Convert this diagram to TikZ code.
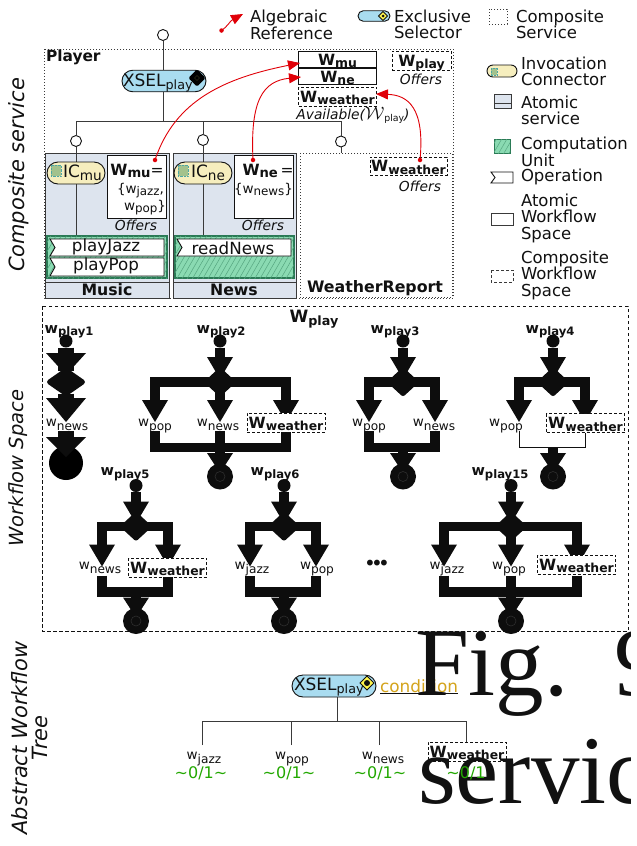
\documentclass[tikz,border=0pt]{standalone}
\usepackage{fontspec}
\setmainfont{DejaVu Sans}
\setsansfont{DejaVu Sans}
\newfontfamily\figfont{Liberation Serif}
\usetikzlibrary{shapes.geometric,shapes.misc,patterns.meta,arrows.meta}
\definecolor{ink}{HTML}{111111}
\definecolor{wfblack}{HTML}{0D0D0D}
\definecolor{linegray}{HTML}{3A3A3A}
\definecolor{selblue}{HTML}{A9DCF0}
\definecolor{icyellow}{HTML}{F6EEBE}
\definecolor{atomfill}{HTML}{DDE4EE}
\definecolor{cugreen}{HTML}{8ADAB2}
\definecolor{cudark}{HTML}{2A7A55}
\definecolor{refred}{HTML}{E00008}
\definecolor{gold}{HTML}{D4A41C}
\definecolor{zgreen}{HTML}{22A800}
\newcommand{\fs}[1]{\fontsize{#1}{#1}\selectfont}
\newcommand{\wsub}[3][.85]{#2\raisebox{-.18em}{\scalebox{#1}{#3}}}
\newcommand{\bW}[1]{{\fs{15.5}\bfseries\wsub[.8]{W}{#1}}}
\newcommand{\bw}[1]{{\fs{14.5}\bfseries\wsub[.8]{w}{#1}}}
\newcommand{\nw}[1]{{\fs{13.5}w\raisebox{-.32em}{\scalebox{.9}{#1}}}}
\tikzset{
  x=1pt,y=-1pt,
  every node/.style={text=ink,inner sep=0pt,outer sep=0pt},
  leg/.style={font=\fs{16.5},align=left,anchor=west},
  dotbox/.style={draw=linegray,line width=.8pt,dash pattern=on 1pt off 2pt},
  tree/.style={draw=linegray,line width=.95pt},
  port/.style={circle,draw=ink,fill=white,line width=.9pt,minimum size=11pt},
  wsbox/.style={text height=11pt,text depth=0pt},
  solidws/.style={draw=ink,fill=white,line width=.9pt,wsbox},
  dashws/.style={draw=ink,fill=white,line width=.9pt,dash pattern=on 3pt off 2pt,wsbox},
  pill/.style={rounded rectangle,draw=ink,line width=.9pt},
  offers/.style={font=\fs{13.8}\itshape},
  atom/.style={draw=linegray,fill=atomfill,line width=1pt},
  cu/.style={draw=cudark,line width=1.6pt,fill=cugreen,postaction={pattern={Lines[angle=60,distance=4.5pt,line width=.5pt]},pattern color=cudark!55!cugreen}},
  opshape/.style={draw=ink,fill=white,line width=.9pt},
  optext/.style={font=\fs{16.7}},
  refline/.style={draw=refred,line width=.9pt,-{Triangle[length=12pt,width=10pt]},fill=none},
  refdot/.style={circle,fill=refred,minimum size=4.5pt},
  wfline/.style={draw=wfblack,line width=9.5pt},
  wfstart/.style={circle,fill=wfblack,minimum size=13pt},
  wfdia/.style={diamond,fill=wfblack,draw=wfblack,line width=5pt,line join=round,minimum width=25pt,minimum height=23pt},
  wfend/.style={circle,fill=wfblack,minimum size=26pt},
  tiny/.style={diamond,draw=olive!55!black,line width=.3pt,minimum size=5pt},
  seldia/.style={diamond,draw=ink,fill=yellow!70!white,line width=.9pt,minimum size=#1},
  seldot/.style={circle,fill=ink,minimum size=#1},
  side/.style={font=\fs{21}\itshape,rotate=90,align=center},
  wlab/.style={anchor=base},
}
% triangle: x, y-top, half width, height
\newcommand{\wftri}[4]{\fill[wfblack] (#1-#3,#2) -- (#1+#3,#2) -- (#1,#2+#4) -- cycle;}
\newcommand{\wfcore}[3]{%
  \node[wfstart] (#1s) at (#2,#3) {};
  \node[wfdia] (#1d) at (#2,#3+41) {};
  \node[wfend] (#1e) at (#2,#3+135.5) {};
  \draw[wfline] (#1s) -- (#1d);
  \wftri{#2}{#3+16}{13}{22}
  \wftri{#2}{#3+112}{13}{20}
  \node[tiny] (#1t) at (#2,#3+41) {};
  \draw[draw=black!82,line width=.6pt] (#1e) circle[radius=5pt];
}
\newcommand{\wfdown}[4]{% id cx x top
  \coordinate (#1b#3) at (#3,#4+41);
  \draw[wfline] (#1d.center) -- (#1b#3) -- (#3,#4+70);
  \wftri{#3}{#4+59}{13}{22}
}
\newcommand{\wfup}[4]{% id cx x top
  \coordinate (#1l#3) at (#3,#4+106.5);
  \coordinate (#1m#3) at (#2,#4+106.5);
  \draw[wfline] (#3,#4+90) -- (#1l#3) -- (#1m#3) -- (#1e);
}
\begin{document}
\begin{tikzpicture}
\useasboundingbox (0,0) rectangle (637,846);
\fill[white] (0,0) rectangle (637,846);

% ---------- legend
\node[refdot] (legdot) at (221.5,30.5) {};
\coordinate (legtip) at (243,14);
\draw[refline] (legdot.center) .. controls (228,26) and (230,21) .. (legtip);
\node[leg] (lega) at (250,25) {Algebraic\\Reference};
\node[pill,fill=selblue,minimum width=32pt,minimum height=10.5pt] (legsel) at (374,16) {};
\node[seldia=9pt] (legseld) at (383,16) {};
\node[seldot=3pt] (legseldd) at (383,16) {};
\node[leg] (legb) at (394,24.5) {Exclusive\\Selector};
\draw[dotbox] (489,9) rectangle (507,24);
\node[leg] (legc) at (516,24.5) {Composite\\Service};
\node[pill,fill=icyellow,minimum width=30pt,minimum height=12pt] (legic) at (502,71) {};
\fill[cyan!40!olive!60!white,draw=teal!70,line width=.4pt,densely dotted] (491,68) rectangle (497,75);
\node[leg] (legd) at (521,71.5) {Invocation\\Connector};
\filldraw[atom] (494,94) rectangle (511,108);
\draw[linegray,line width=1pt] (494,103.5) -- (511,103.5);
\node[leg] (lege) at (521,110.5) {Atomic\\service};
\filldraw[cu,line width=.9pt] (494,139) rectangle (510,153);
\node[leg] (legf) at (521,152) {Computation\\Unit};
\draw[opshape] (491,172) -- (513,172) -- (513,183) -- (491,183) -- (495,177.5) -- cycle;
\node[leg] (legg) at (521,177) {Operation};
\draw[draw=linegray,fill=white,line width=.8pt] (491,213) rectangle (513,225);
\node[leg] (legh) at (521,218) {Atomic\\Workflow\\Space};
\draw[draw=linegray,fill=white,line width=.8pt,dash pattern=on 3pt off 2pt] (491,270) rectangle (513,282);
\node[leg] (legi) at (521,275) {Composite\\Workflow\\Space};

% ---------- side labels
\node[side] (sidea) at (19,175) {Composite service};
\node[side,font=\fs{19.5}\itshape] (sideb) at (18,468) {Workflow Space};
\node[side,font=\fontsize{21}{20}\selectfont\itshape] (sidec) at (30,738) {Abstract Workflow\\Tree};

% ---------- composite service
\draw[dotbox] (44,49) rectangle (453,298);
\node[anchor=west,font=\fs{15.4}\bfseries] (player) at (46,57) {Player};
\node[port] (ptop) at (163,35) {};
\node[pill,fill=selblue,minimum width=84pt,minimum height=21.5pt] (xsel) at (164,81) {};
\node[anchor=base west,font=\fs{17}] (xseltxt) at (123,86) {\wsub[.75]{XSEL}{play}};
\node[diamond,fill=black,draw=black,line width=3pt,line join=round,minimum size=13pt] (xseld) at (197,78) {};
\node[tiny] (xseldt) at (197,78) {};
\coordinate (hub) at (163,121);
\node[port] (pmu) at (76,141) {};
\node[port] (pne) at (203,140) {};
\node[port] (pwe) at (341,141.5) {};
\draw[tree] (ptop) -- (xsel.north -| ptop);
\draw[tree] (xsel.south -| ptop) -- (hub);
\draw[tree] (pmu) |- (hub);
\draw[tree] (pwe) |- (hub);
\draw[tree] (pne) -- (pne |- hub);

% Music
\draw[atom] (45,153) rectangle (169,298);
\draw[linegray,line width=1pt] (45,282) -- (169,282);
\draw[tree] (pmu) -- (76,236);
\node[pill,fill=icyellow,minimum width=58pt,minimum height=22pt] (icmu) at (76,173) {};
\fill[cyan!40!olive!60!white,draw=teal!70,line width=.4pt,densely dotted] (51,165) rectangle (61,176);
\node[anchor=base west,font=\fs{17}] (icmut) at (63,177) {\wsub[.8]{IC}{mu}};
\node[draw=ink,fill=white,line width=.9pt,minimum width=59pt,minimum height=63pt] (bmu) at (136.5,186.5) {};
\node[anchor=base,font=\fs{15.5}] (bmua) at (137,175) {{\bfseries\wsub[.85]{W}{mu}}=};
\node[anchor=base east,font=\fs{13.5}] (bmub) at (164,193) {\{\wsub[.88]{w}{jazz},};
\node[anchor=base east,font=\fs{13.5}] (bmuc) at (166,210) {\wsub[.88]{w}{pop}\}};
\node[offers] (ofmu) at (136,225) {Offers};
\filldraw[cu] (47,236) rectangle (167,278);
\draw[opshape] (50,239) -- (164,239) -- (164,256) -- (50,256) -- (55,247.5) -- cycle;
\draw[opshape] (50,258) -- (164,258) -- (164,276) -- (50,276) -- (55,267) -- cycle;
\node[optext] (opa) at (106,247) {playJazz};
\node[optext] (opb) at (106,266) {playPop};
\node[font=\fs{15.7}\bfseries] (mus) at (107,290) {Music};

% News
\draw[atom] (173,153) rectangle (296,298);
\draw[linegray,line width=1pt] (173,282) -- (296,282);
\draw[tree] (pne) -- (203,236);
\node[pill,fill=icyellow,minimum width=58pt,minimum height=22pt] (icne) at (203,173) {};
\fill[cyan!40!olive!60!white,draw=teal!70,line width=.4pt,densely dotted] (178,165) rectangle (188,176);
\node[anchor=base west,font=\fs{17}] (icnet) at (191,177) {\wsub[.8]{IC}{ne}};
\node[draw=ink,fill=white,line width=.9pt,minimum width=59pt,minimum height=63pt] (bne) at (263.5,186.5) {};
\node[anchor=base,font=\fs{15.5}] (bnea) at (268,175) {{\bfseries\wsub[.85]{W}{ne}}\,=};
\node[anchor=base,font=\fs{13.5}] (bneb) at (263.5,193) {\{\wsub[.88]{w}{news}\}};
\node[offers] (ofne) at (263,225) {Offers};
\filldraw[cu] (175,236) rectangle (294,278);
\draw[opshape] (177,239) -- (291,239) -- (291,256) -- (177,256) -- (182,247.5) -- cycle;
\node[optext] (opc) at (233,248) {readNews};
\node[font=\fs{15.7}\bfseries] (nws) at (234,290) {News};

% Weather
\draw[dotbox] (300,153) rectangle (452,297);
\draw[tree] (pwe) -- (341,153);
\node[dashws,minimum width=77pt,minimum height=18pt] (wwe) at (408.5,166) {\bW{weather}};
\node[offers] (ofwe) at (420,186) {Offers};
\node[font=\fs{15.8}\bfseries] (wrep) at (375,288) {WeatherReport};

% Player side
\node[solidws,minimum width=78pt,minimum height=16.5pt] (wmu) at (337.5,59.5) {\bW{mu}};
\node[solidws,minimum width=78pt,minimum height=16.5pt] (wne) at (337.5,76.5) {\bW{ne}};
\node[dashws,minimum width=78pt,minimum height=19pt] (wpwe) at (337.5,96.5) {\bW{weather}};
\node[anchor=base,font=\fs{13.8}\itshape] (avail) at (353,119) {Available(\scalebox{1.25}{$\mathcal{W}$}\raisebox{-.2em}{\scalebox{.68}{\upshape play}})};
\node[dashws,minimum width=59pt,minimum height=19pt] (wpl) at (421.5,60.5) {\bW{play}};
\node[offers] (ofpl) at (421,79) {Offers};

% ---------- references
\node[refdot] (dmu) at (155,160) {};
\node[refdot] (dne) at (253,160) {};
\node[refdot] (dwe) at (420,160) {};
\coordinate (tmu) at (300,63);
\coordinate (tne) at (301,77);
\coordinate (twe) at (376,94);
\draw[refline] (dmu.center) .. controls (175,100) and (225,78) .. (tmu);
\draw[refline] (dne.center) .. controls (250,100) and (263,81) .. (tne);
\draw[refline] (dwe.center) .. controls (425,108) and (408,95) .. (twe);

% ---------- workflow space
\draw[draw=ink,line width=.9pt,dash pattern=on 3.5pt off 2.5pt] (42,306) rectangle (628,631);
\node[anchor=base,font=\fs{17}\bfseries] (wplay) at (314,322) {\wsub[.75]{W}{play}};

% wplay1
\node[wlab] (l1) at (69,333) {\bw{play1}};
\node[wfstart] (a1s) at (66,341) {};
\node[diamond,fill=wfblack,draw=wfblack,line width=5pt,line join=round,minimum width=33pt,minimum height=23pt] (a1d) at (66,382) {};
\node[circle,fill=black,minimum size=34pt] (a1e) at (66,463) {};
\draw[draw=wfblack,line width=16pt] (a1s) -- (a1d);
\draw[draw=wfblack,line width=16pt] (a1d) -- (66,412);
\draw[draw=wfblack,line width=16pt] (66,431) -- (a1e);
\wftri{66}{353}{20}{22}
\wftri{66}{398}{20}{24}
\wftri{66}{437}{20}{20}
\node[wlab] (l1n) at (67,426) {\nw{news}};

% wplay2
\node[wlab] (l2) at (221,333) {\bw{play2}};
\wfcore{b}{220}{341}
\wfdown{b}{220}{155}{341}\wfdown{b}{220}{220}{341}\wfdown{b}{220}{286}{341}
\wfup{b}{220}{155}{341}\wfup{b}{220}{286}{341}\wfup{b}{220}{220}{341}
\node[wlab] (b1) at (155,426) {\nw{pop}};
\node[wlab] (b2) at (218,426) {\nw{news}};
\node[dashws,minimum width=78pt,minimum height=19pt] (b3) at (286,422.5) {\bW{weather}};

% wplay3
\node[wlab] (l3) at (395,333) {\bw{play3}};
\wfcore{c}{403}{341}
\wfdown{c}{403}{369}{341}\wfdown{c}{403}{435}{341}
\wfup{c}{403}{369}{341}\wfup{c}{403}{435}{341}
\node[wlab] (c1) at (369,426) {\nw{pop}};
\node[wlab] (c2) at (434,426) {\nw{news}};

% wplay4
\node[wlab] (l4) at (550,333) {\bw{play4}};
\wfcore{d}{553}{341}
\wfdown{d}{553}{519}{341}\wfdown{d}{553}{585}{341}
\draw[wfline] (553,447.5) -- (de);
\node[wlab] (d1) at (506,426) {\nw{pop}};
\node[dashws,minimum width=78pt,minimum height=19pt] (d2) at (585.5,423) {\bW{weather}};
\draw[draw=ink,line width=.9pt] (519,431) |- (585,447) -- (585,433);

% wplay5
\node[wlab] (l5) at (125,475.5) {\bw{play5}};
\wfcore{e}{136}{485.5}
\wfdown{e}{136}{102}{485.5}\wfdown{e}{136}{168}{485.5}
\wfup{e}{136}{102}{485.5}\wfup{e}{136}{168}{485.5}
\node[wlab] (e1) at (100,569.5) {\nw{news}};
\node[dashws,minimum width=78pt,minimum height=19pt] (e2) at (167.5,567.5) {\bW{weather}};

% wplay6
\node[wlab] (l6) at (275,475.5) {\bw{play6}};
\wfcore{f}{284}{485.5}
\wfdown{f}{284}{250}{485.5}\wfdown{f}{284}{316}{485.5}
\wfup{f}{284}{250}{485.5}\wfup{f}{284}{316}{485.5}
\node[wlab] (f1) at (252,569.5) {\nw{jazz}};
\node[wlab] (f2) at (317,569.5) {\nw{pop}};

\node[font=\fs{20}] (dots) at (377,565) {•\hspace{-4.8pt}•\hspace{-4.8pt}•};

% wplay15
\node[wlab] (l15) at (500,475.5) {\bw{play15}};
\wfcore{g}{511}{485.5}
\wfdown{g}{511}{444}{485.5}\wfdown{g}{511}{511}{485.5}\wfdown{g}{511}{577}{485.5}
\wfup{g}{511}{444}{485.5}\wfup{g}{511}{577}{485.5}\wfup{g}{511}{511}{485.5}
\node[wlab] (g1) at (447,569.5) {\nw{jazz}};
\node[wlab] (g2) at (509,569.5) {\nw{pop}};
\node[dashws,minimum width=78pt,minimum height=19pt] (g3) at (576.5,564.5) {\bW{weather}};

% ---------- abstract tree
\node[pill,fill=selblue,minimum width=84pt,minimum height=22pt] (tsel) at (334,686) {};
\node[anchor=base west,font=\fs{17}] (tselt) at (294,690.5) {\wsub[.75]{XSEL}{play}};
\node[seldia=14pt] (tseld) at (367,683) {};
\node[seldot=6pt] (tseldd) at (367,683) {};
\node[font=\fs{16.9},text=gold,anchor=west] (cond) at (380,686) {condition};
\draw[draw=ink,line width=.9pt] (cond.west |- 0,693.5) -- (cond.east |- 0,693.5);
\coordinate (thub) at (337,721);
\coordinate (ta) at (202,745);
\coordinate (tb) at (291,745);
\coordinate (tc) at (379,745);
\coordinate (td) at (466,742);
\draw[tree] (tsel.south -| thub) -- (thub);
\draw[tree] (ta) |- (td |- thub) -- (td);
\draw[tree] (tb) -- (tb |- thub);
\draw[tree] (tc) -- (tc |- thub);
\node[wlab] (tl1) at (204,759) {\nw{jazz}};
\node[wlab] (tl2) at (292,759) {\nw{pop}};
\node[wlab] (tl3) at (383,759) {\nw{news}};
\node[dashws,fill=none,minimum width=78pt,minimum height=19pt] (tl4) at (467,751.5) {\bW{weather}};
\node[font=\fs{16},text=zgreen] (z1) at (201,773) {\textasciitilde0/1\textasciitilde};
\node[font=\fs{16},text=zgreen] (z2) at (289,773) {\textasciitilde0/1\textasciitilde};
\node[font=\fs{16},text=zgreen] (z3) at (380,773) {\textasciitilde0/1\textasciitilde};

% ---------- oversized text, cut at the edge
\begin{scope}
\clip (0,0) rectangle (630,846);
\node[anchor=base west,font=\fontsize{97}{97}\selectfont\figfont] (figa) at (415,695) {Fig.};
\node[anchor=base west,font=\fontsize{97}{97}\selectfont\figfont] (figb) at (614,695) {9};
\node[anchor=base west,font=\fontsize{97}{97}\selectfont\figfont] (figc) at (418,803) {servic};
\end{scope}
\node[font=\fs{16},text=zgreen] (z4) at (466,773) {\textasciitilde0/1};
\end{tikzpicture}
\end{document}
